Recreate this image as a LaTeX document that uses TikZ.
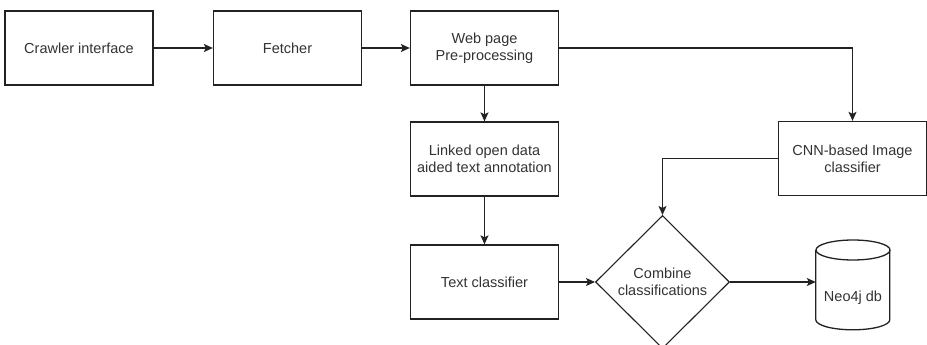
\documentclass[tikz,border=0pt]{standalone}
\usepackage{fontspec}
\setmainfont{Liberation Sans}
\usetikzlibrary{arrows.meta,shapes.geometric}
\definecolor{ink}{HTML}{222222}
\definecolor{txt}{HTML}{333333}
\tikzset{
  procbox/.style={draw=ink, line width=1.3pt, rectangle, minimum width=148pt, minimum height=74pt,
    inner sep=0pt, align=center, text=txt, font=\fontsize{14.5}{17}\selectfont},
  decide/.style={draw=ink, line width=1.1pt, diamond, minimum width=134pt, minimum height=133pt,
    inner sep=0pt, align=center, text=txt, font=\fontsize{14.5}{17}\selectfont},
  holder/.style={rectangle, minimum width=74pt, minimum height=90pt, inner sep=0pt},
  flow/.style={draw=ink, line width=1.3pt, -{Stealth[length=9pt,width=8pt,inset=2pt]}},
  label/.style={text=txt, font=\fontsize{14.5}{17}\selectfont, inner sep=0pt}
}
\begin{document}
\begin{tikzpicture}[x=1pt,y=-1pt]
\useasboundingbox (0,0) rectangle (927,345);
\clip (0,0) rectangle (927,345);
\fill[white] (0,0) rectangle (927,345);

% pipeline stages
\node[procbox] (crawl) at (79,48) {Crawler interface};
\node[procbox] (fetch) at (287.5,48) {Fetcher};
\node[procbox] (prep) at (484.5,48) {Web page\\Pre-processing};
\node[procbox] (lod) at (484.5,159) {Linked open data\\aided text annotation};
\node[procbox] (textc) at (484.5,282) {Text classifier};
\node[procbox] (cnn) at (852.5,158.5) {CNN-based Image\\classifier};
\node[decide] (comb) at (662.5,282) {Combine\\classifications};

% database cylinder
\node[holder] (db) at (853,285) {};
\draw[ink, line width=1.3pt, fill=white]
  (db.north west) ++(0,10) -- ++(0,70) arc[start angle=180, end angle=0, x radius=37, y radius=10]
  -- ++(0,-70);
\draw[ink, line width=1.3pt] (853,250) ellipse[x radius=37, y radius=10];
\node[label] at (853,298) {Neo4j db};

% connectors
\draw[flow] (crawl) -- (fetch);
\draw[flow] (fetch) -- (prep);
\draw[flow] (prep) -- (lod);
\draw[flow] (lod) -- (textc);
\draw[flow] (prep.east) -| (cnn.north);
\draw[flow] (cnn.west) -| (comb.north);
\draw[flow] (textc) -- (comb.west);
\draw[flow] (comb.east) -- (comb.east -| db.west);
\end{tikzpicture}
\end{document}
